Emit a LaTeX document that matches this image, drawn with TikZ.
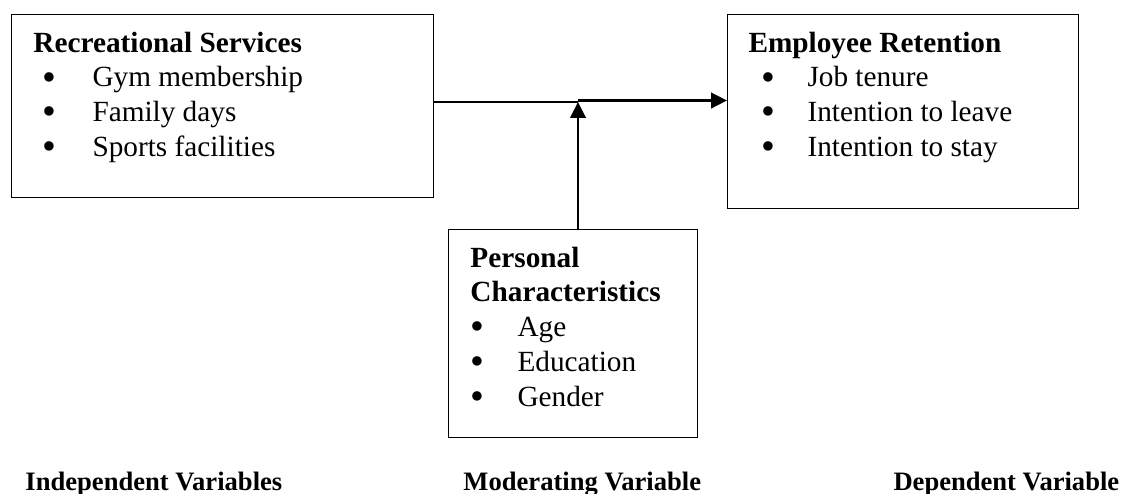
\documentclass[tikz,border=0pt]{standalone}
\usepackage{fontspec}
\setmainfont{Liberation Serif}
\usetikzlibrary{arrows.meta}

\newdimen\pxu \pxu=0.41pt
\newcommand{\bigbul}{\raisebox{-0.11em}{\scalebox{1.35}{\textbullet}}}
\newcommand{\bul}[3]{\par\makebox[#2][l]{\hspace*{#1}\bigbul}#3}

\begin{document}
\begin{tikzpicture}[x=0.41pt,y=-0.41pt]

    \tikzset{
      box/.style={
        draw,
        line width=0.6pt,
        inner sep=0pt,
        anchor=north west,
      },
      body/.style={
        anchor=base west,
        inner sep=0pt,
        font=\fontsize{12}{14.3}\selectfont,
      },
      caption/.style={
        anchor=base west,
        inner sep=0pt,
        font=\fontsize{10.9}{13}\selectfont\bfseries,
      },
      flow/.style={
        line width=1.1pt,
        -{Triangle[length=6.5pt,width=6.3pt]},
      },
    }
    \useasboundingbox (0,0) rectangle (1124,493);

    % boxes
    \node[box, minimum width=422\pxu, minimum height=183\pxu] (rec) at (11,14) {};
    \node[box, minimum width=351\pxu, minimum height=194\pxu] (ret) at (727,14) {};
    \node[box, minimum width=249\pxu, minimum height=208\pxu] (pers) at (448,229) {};

    \node[body] (recT) at ([shift={(22,38)}]rec.north west) {\parbox[t]{160pt}{%
      \textbf{Recreational Services}%
      \bul{3.8pt}{24.2pt}{Gym membership}%
      \bul{3.8pt}{24.2pt}{Family days}%
      \bul{3.8pt}{24.2pt}{Sports facilities}}};
    \node[body] (retT) at ([shift={(21,38)}]ret.north west) {\parbox[t]{140pt}{%
      \textbf{Employee Retention}%
      \bul{5.4pt}{24.2pt}{Job tenure}%
      \bul{5.4pt}{24.2pt}{Intention to leave}%
      \bul{5.4pt}{24.2pt}{Intention to stay}}};
    \node[body] (persT) at ([shift={(22,38)}]pers.north west) {\parbox[t]{95pt}{%
      \textbf{Personal}\\
      \textbf{Characteristics}%
      \bul{0pt}{19.3pt}{Age}%
      \bul{0pt}{19.3pt}{Education}%
      \bul{0pt}{19.3pt}{Gender}}};

    % connectors
    \coordinate (jn) at (578,102);
    \coordinate (jt) at (578,100.5);
    \draw[line width=1.1pt] (rec.east |- jn) -- (jn);
    \draw[flow] (jt) -- (ret.west |- jt);
    \draw[flow] (pers.north -| jn) -- (jn);

    \node[caption] (indep) at (25,490) {Independent Variables};
    \node[caption] (moder) at (463,490) {Moderating Variable};
    \node[caption] (dep) at (893,490) {Dependent Variable};

\end{tikzpicture}
\end{document}
